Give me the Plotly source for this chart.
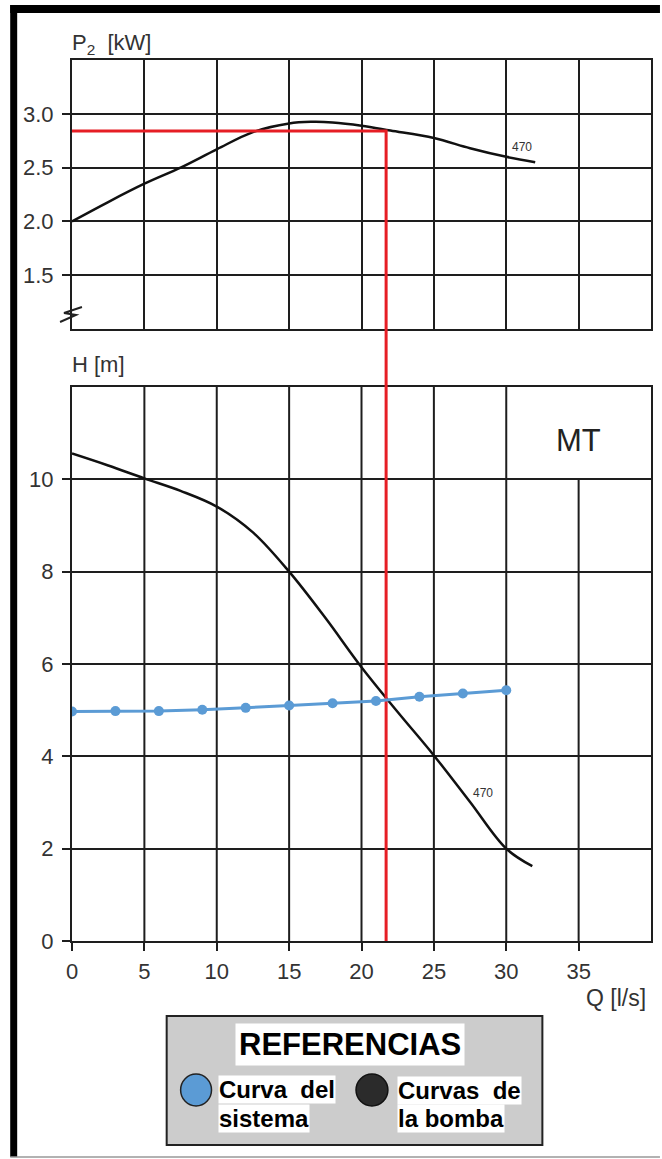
import plotly.graph_objects as go

# ---------------- data ----------------
q_power = [0, 2.5, 5, 7.5, 10, 12.5, 15, 16.5, 18, 20, 22, 25, 27.5, 30, 32]
p_power = [2.0, 2.18, 2.35, 2.5, 2.67, 2.83, 2.91, 2.925, 2.92, 2.89, 2.845, 2.775, 2.68, 2.60, 2.55]

q_pump = [0, 2.5, 5, 7.5, 10, 12.5, 15, 17.5, 20, 22.5, 25, 27.5, 30, 31.8]
h_pump = [10.56, 10.3, 10.02, 9.75, 9.41, 8.85, 8.0, 7.0, 5.93, 4.96, 4.02, 3.01, 2.0, 1.62]

q_system = [0, 3, 6, 9, 12, 15, 18, 21, 24, 27, 30]
h_system = [4.97, 4.98, 4.98, 5.01, 5.05, 5.10, 5.15, 5.20, 5.29, 5.36, 5.43]

q_op = 21.7      # operating flow
p_op = 2.84      # operating power

x_ticks = [0, 5, 10, 15, 20, 25, 30, 35]
p_ticks = [1.5, 2.0, 2.5, 3.0]
p_ticktext = ["1.5", "2.0", "2.5", "3.0"]
h_ticks = [0, 2, 4, 6, 8, 10]

curve_label = "470"

# ---------------- layout helpers ----------------
W, H = 662, 1159
ML, MR, MT_, MB = 72, 9, 60, 218
PW = W - ML - MR
PH = H - MT_ - MB


def px_x(px):
    return (px - ML) / PW


def px_y(py):
    return (H - MB - py) / PH


up_dom = [px_y(329), 1.0]
lo_dom = [0.0, px_y(387)]

FONT = "Liberation Sans, Arial, sans-serif"
GRID = "#1e1e1e"
RED = "#e61e25"
BLUE = "#5b9bd5"
TXT = "#333333"

fig = go.Figure()

# power curve
fig.add_trace(go.Scatter(x=q_power, y=p_power, mode="lines", line=dict(color="#111", width=2.5, shape="spline", smoothing=1.0),
                         xaxis="x", yaxis="y", hoverinfo="skip"))
# red operating lines (upper)
fig.add_trace(go.Scatter(x=[0, q_op, q_op], y=[p_op, p_op, 1.0], mode="lines",
                         line=dict(color=RED, width=3), xaxis="x", yaxis="y", hoverinfo="skip"))

# pump curve
fig.add_trace(go.Scatter(x=q_pump, y=h_pump, mode="lines", line=dict(color="#111", width=2.5, shape="spline", smoothing=1.0),
                         xaxis="x2", yaxis="y2", hoverinfo="skip"))
# red vertical (lower)
fig.add_trace(go.Scatter(x=[q_op, q_op], y=[0, 12], mode="lines",
                         line=dict(color=RED, width=3), xaxis="x2", yaxis="y2", hoverinfo="skip"))
# system curve
fig.add_trace(go.Scatter(x=q_system, y=h_system, mode="lines+markers",
                         line=dict(color=BLUE, width=3), marker=dict(color=BLUE, size=10),
                         xaxis="x2", yaxis="y2", hoverinfo="skip"))

axis_common = dict(showgrid=True, gridcolor=GRID, gridwidth=2, zeroline=False,
                   showline=True, linecolor=GRID, linewidth=2, mirror=True,
                   tickfont=dict(family=FONT, size=22, color=TXT),
                   ticks="outside", ticklen=8, tickcolor=GRID, tickwidth=2)

shapes = []
# lower vertical grid lines drawn manually (gap behind "MT")
for q in x_ticks[1:]:
    top = 10 if q == 35 else 12
    shapes.append(dict(type="line", xref="x2", yref="y2", x0=q, x1=q, y0=0, y1=top,
                       line=dict(color=GRID, width=2), layer="below"))
# red vertical in the gap between panels
shapes.append(dict(type="line", xref="x2", yref="paper", x0=q_op, x1=q_op, y0=lo_dom[1], y1=up_dom[0],
                   line=dict(color=RED, width=3)))
# break symbol on upper y axis
shapes.append(dict(type="path", xref="paper", yref="paper",
                   path=(f"M {px_x(60)},{px_y(322)} L {px_x(76)},{px_y(315)} L {px_x(64)},{px_y(313)} "
                         f"L {px_x(82)},{px_y(307)}"),
                   line=dict(color="#222", width=2)))
# frame
shapes.append(dict(type="rect", xref="paper", yref="paper", x0=px_x(10), x1=px_x(17), y0=px_y(1157), y1=px_y(5),
                   fillcolor="black", line=dict(width=0)))
shapes.append(dict(type="rect", xref="paper", yref="paper", x0=px_x(10), x1=px_x(662), y0=px_y(13), y1=px_y(5),
                   fillcolor="black", line=dict(width=0)))
shapes.append(dict(type="line", xref="paper", yref="paper", x0=px_x(10), x1=px_x(662), y0=px_y(1157), y1=px_y(1157),
                   line=dict(color="#999", width=1.5)))
# legend box
shapes.append(dict(type="rect", xref="paper", yref="paper", x0=px_x(167), x1=px_x(544), y0=px_y(1145), y1=px_y(1016),
                   fillcolor="#cccccc", line=dict(color="#222", width=2)))
shapes.append(dict(type="circle", xref="paper", yref="paper", x0=px_x(181), x1=px_x(212), y0=px_y(1106), y1=px_y(1074),
                   fillcolor=BLUE, line=dict(color="#222", width=1.5)))
shapes.append(dict(type="circle", xref="paper", yref="paper", x0=px_x(357), x1=px_x(389), y0=px_y(1106), y1=px_y(1074),
                   fillcolor="#2b2b2b", line=dict(color="#111", width=1.5)))

ann = []
ann.append(dict(text="P<sub>2</sub>  [kW]", xref="paper", yref="paper", x=0, y=1, xanchor="left", yanchor="bottom",
                yshift=0, xshift=-2, showarrow=False, font=dict(family=FONT, size=22, color=TXT)))
ann.append(dict(text="H [m]", xref="paper", yref="paper", x=0, y=lo_dom[1], xanchor="left", yanchor="bottom",
                yshift=8, xshift=-2, showarrow=False, font=dict(family=FONT, size=22, color=TXT)))
ann.append(dict(text="MT", xref="x2", yref="y2", x=35, y=10.84, xanchor="center", yanchor="middle", showarrow=False,
                font=dict(family=FONT, size=31, color="#222")))
ann.append(dict(text="Q [l/s]", xref="x2", yref="paper", x=37.6, y=0, xanchor="center", yanchor="middle",
                yshift=-57, showarrow=False, font=dict(family=FONT, size=23, color=TXT)))
ann.append(dict(text=curve_label, xref="x", yref="y", x=31.1, y=2.69, showarrow=False,
                font=dict(family=FONT, size=12, color=TXT)))
ann.append(dict(text=curve_label, xref="x2", yref="y2", x=28.4, y=3.2, showarrow=False,
                font=dict(family=FONT, size=12, color=TXT)))
# legend texts
ann.append(dict(text="<b>REFERENCIAS</b>", xref="paper", yref="paper", x=px_x(351), y=px_y(1044),
                xanchor="center", yanchor="middle", showarrow=False,
                bgcolor="white", borderpad=3, font=dict(family=FONT, size=31, color="black")))
for txt, x, y in [("Curva  del", 219, 1089), ("sistema", 219, 1118), ("Curvas  de", 398, 1090), ("la bomba", 398, 1118)]:
    ann.append(dict(text=f"<b>{txt}</b>", xref="paper", yref="paper", x=px_x(x), y=px_y(y), xanchor="left",
                    yanchor="middle", showarrow=False, bgcolor="white", borderpad=0,
                    font=dict(family=FONT, size=24, color="black")))

fig.update_layout(
    width=W, height=H, margin=dict(l=ML, r=MR, t=MT_, b=MB),
    paper_bgcolor="white", plot_bgcolor="white", showlegend=False,
    xaxis=dict(axis_common, domain=[0, 1], range=[0, 40], tickvals=x_ticks[1:], showticklabels=False, ticks="",
               anchor="y"),
    yaxis=dict(axis_common, domain=up_dom, range=[1.0, 3.5], tickvals=p_ticks, ticktext=p_ticktext, anchor="x",
               ticklabelstandoff=4),
    xaxis2=dict(axis_common, domain=[0, 1], range=[0, 40], tickvals=x_ticks, showgrid=False, anchor="y2",
                ticklabelstandoff=2),
    yaxis2=dict(axis_common, domain=lo_dom, range=[0, 12], tickvals=h_ticks, anchor="x2", ticklabelstandoff=4),
    shapes=shapes, annotations=ann,
)

fig.write_html("out.html")
